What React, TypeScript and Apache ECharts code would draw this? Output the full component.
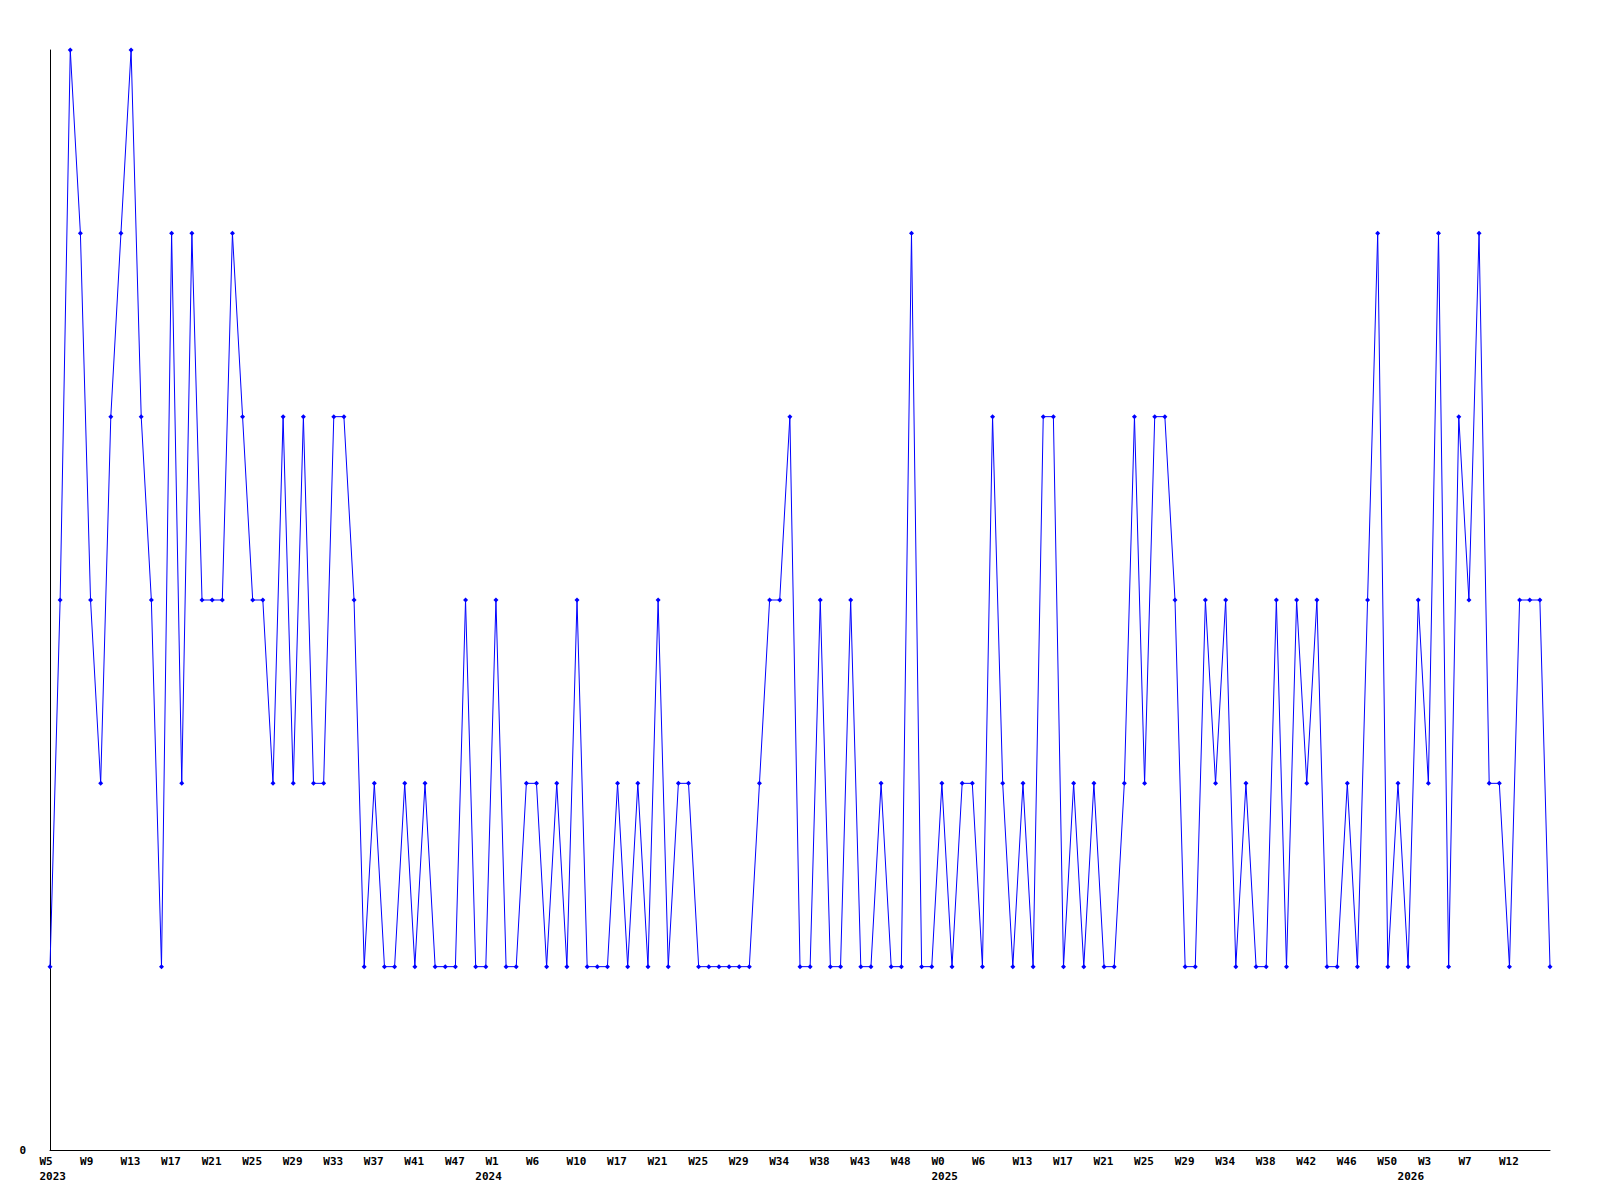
import React, { useEffect, useRef } from "react";
import * as echarts from "echarts";

// weekly values (149 weeks)
const values: number[] = [
  1, 3, 6, 5, 3, 2, 4, 5, 6, 4,
  3, 1, 5, 2, 5, 3, 3, 3, 5, 4,
  3, 3, 2, 4, 2, 4, 2, 2, 4, 4,
  3, 1, 2, 1, 1, 2, 1, 2, 1, 1,
  1, 3, 1, 1, 3, 1, 1, 2, 2, 1,
  2, 1, 3, 1, 1, 1, 2, 1, 2, 1,
  3, 1, 2, 2, 1, 1, 1, 1, 1, 1,
  2, 3, 3, 4, 1, 1, 3, 1, 1, 3,
  1, 1, 2, 1, 1, 5, 1, 1, 2, 1,
  2, 2, 1, 4, 2, 1, 2, 1, 4, 4,
  1, 2, 1, 2, 1, 1, 2, 4, 2, 4,
  4, 3, 1, 1, 3, 2, 3, 1, 2, 1,
  1, 3, 1, 3, 2, 3, 1, 1, 2, 1,
  3, 5, 1, 2, 1, 3, 2, 5, 1, 4,
  3, 5, 2, 2, 1, 3, 3, 3, 1,
];

// tick labels shown every 4th week
const tickLabels: string[] = [
  "W5", "W9", "W13", "W17", "W21", "W25", "W29", "W33", "W37", "W41",
  "W47", "W1", "W6", "W10", "W17", "W21", "W25", "W29", "W34", "W38",
  "W43", "W48", "W0", "W6", "W13", "W17", "W21", "W25", "W29", "W34",
  "W38", "W42", "W46", "W50", "W3", "W7", "W12",
];

// year labels and the week index at which each is written
const yearLabels: string[] = ["2023", "2024", "2025", "2026"];
const yearWeekIndex: number[] = [0, 43, 88, 134];

const TICK_EVERY = 4;

export default function App() {
  const ref = useRef<HTMLDivElement>(null);

  useEffect(() => {
    if (!ref.current) return;
    const chart = echarts.init(ref.current, null, { renderer: "svg" });

    const weekCats = values.map((_, i) =>
      i % TICK_EVERY === 0 ? tickLabels[i / TICK_EVERY] ?? "" : ""
    );
    const yearCats = values.map((_, i) => {
      const yi = yearWeekIndex.indexOf(i);
      return yi >= 0 ? yearLabels[yi] : "";
    });

    const font = {
      fontFamily: "DejaVu Sans Mono",
      fontWeight: "bold" as const,
      fontSize: 11,
      color: "#000",
    };

    chart.setOption({
      animation: false,
      backgroundColor: "#fff",
      grid: [
        { left: 50, right: 50, top: 50, bottom: 50, containLabel: false },
        { left: 39.5, right: 60.5, top: 50, bottom: 50, containLabel: false },
      ],
      xAxis: [
        {
          type: "category",
          gridIndex: 0,
          data: weekCats,
          boundaryGap: false,
          axisLine: { show: true, lineStyle: { color: "#000", width: 1 } },
          axisTick: { show: false },
          axisLabel: { show: false },
          splitLine: { show: false },
        },
        {
          type: "category",
          gridIndex: 1,
          position: "bottom",
          data: weekCats,
          boundaryGap: false,
          axisLine: { show: false },
          axisTick: { show: false },
          splitLine: { show: false },
          axisLabel: {
            show: true,
            interval: TICK_EVERY - 1,
            align: "left",
            margin: 6,
            ...font,
          },
        },
        {
          type: "category",
          gridIndex: 1,
          position: "bottom",
          data: yearCats,
          boundaryGap: false,
          axisLine: { show: false },
          axisTick: { show: false },
          splitLine: { show: false },
          axisLabel: {
            show: true,
            interval: 0,
            align: "left",
            margin: 21,
            ...font,
          },
        },
      ],
      yAxis: [
        {
          type: "value",
          gridIndex: 0,
          min: 0,
          max: 6,
          interval: 6,
          axisLine: { show: true, lineStyle: { color: "#000", width: 1 } },
          axisTick: { show: false },
          splitLine: { show: false },
          axisLabel: {
            show: true,
            margin: 24,
            formatter: (v: number) => (v === 0 ? "0" : ""),
            ...font,
          },
        },
        {
          type: "value",
          gridIndex: 1,
          min: 0,
          max: 6,
          show: false,
        },
      ],
      series: [
        {
          type: "line",
          xAxisIndex: 0,
          yAxisIndex: 0,
          data: values,
          symbol: "diamond",
          symbolSize: 5,
          showAllSymbol: true,
          lineStyle: { color: "#0000ff", width: 1 },
          itemStyle: { color: "#0000ff" },
          emphasis: { disabled: true },
        },
      ],
    });

    return () => chart.dispose();
  }, []);

  return (
    <div
      ref={ref}
      style={{ position: "absolute", left: 0, top: 0, width: 1600, height: 1200 }}
    />
  );
}
